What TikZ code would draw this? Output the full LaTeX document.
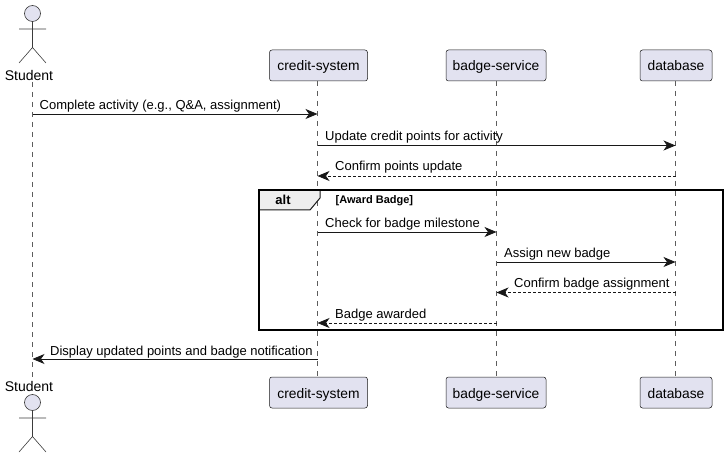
\documentclass[tikz,border=0pt]{standalone}
\usepackage{fontspec}
\setmainfont{Liberation Sans}
\usetikzlibrary{arrows.meta}
\definecolor{pfill}{HTML}{E2E2F0}
\definecolor{pline}{HTML}{181818}
\definecolor{tabfill}{HTML}{EEEEEE}
\tikzset{
  x=1bp,y=-1bp,
  partbox/.style={draw=pline,fill=pfill,rounded corners=2.5bp,line width=0.5bp,minimum height=31bp,inner sep=0pt,text height=11bp,text depth=0bp,font=\fontsize{13.8bp}{15bp}\selectfont,text=black},
  lifeline/.style={draw=pline!70!white,line width=0.5bp,dash pattern=on 5bp off 5bp},
  actorline/.style={draw=pline!85!white,line width=0.6bp},
  msg/.style={draw=pline,line width=0.8bp,-{Stealth[length=12bp,width=10bp,inset=3.5bp]}},
  ret/.style={msg,dash pattern=on 2.5bp off 2.5bp},
  msglabel/.style={anchor=base west,inner sep=0pt,font=\fontsize{13bp}{15bp}\selectfont,text=black},
  actorlabel/.style={anchor=base,inner sep=0pt,font=\fontsize{14bp}{15bp}\selectfont,text=black},
  frameline/.style={draw=black,line width=1.5bp},
}
\newcommand{\stickman}[2]{%
  \draw[actorline,fill=pfill] (#1,#2) circle[radius=8bp];
  \draw[actorline] (#1,#2+8) -- (#1,#2+34) (#1-13.5,#2+15.5) -- (#1+13.5,#2+15.5)
    (#1-13.5,#2+49.5) -- (#1,#2+34) -- (#1+13.5,#2+49.5);
}
\begin{document}
\begin{tikzpicture}
\useasboundingbox (0,0) rectangle (727,458);
% participants
\node[actorlabel] (st1) at (29,80.3) {Student};
\node[actorlabel] (st2) at (29,391.3) {Student};
\node[partbox,minimum width=98bp] (cs1) at (318.5,65.5) {credit-system};
\node[partbox,minimum width=98bp] (cs2) at (318.5,392.5) {credit-system};
\node[partbox,minimum width=100bp] (bs1) at (496,65.5) {badge-service};
\node[partbox,minimum width=100bp] (bs2) at (496,392.5) {badge-service};
\node[partbox,minimum width=72bp] (db1) at (676,65.5) {database};
\node[partbox,minimum width=72bp] (db2) at (676,392.5) {database};
% lifelines
\draw[lifeline] (32.5,82) -- (32.5,378);
\draw[lifeline] (317.5,81) -- (317.5,377);
\draw[lifeline] (496.5,81) -- (496.5,377);
\draw[lifeline] (675.5,81) -- (675.5,377);
% actors
\stickman{32.5}{13.5}
\stickman{32.5}{402.5}
% frame
\fill[tabfill] (259,190) -- (320,190) -- (320,198) -- (310,210) -- (259,210) -- cycle;
\draw[pline,line width=1bp] (320,190) -- (320,198) -- (310,210) -- (259,210);
\draw[frameline] (259,190) rectangle (723,330);
\node[anchor=base,inner sep=0pt,font=\bfseries\fontsize{13bp}{15bp}\selectfont] (alt) at (283,205) {alt};
\node[inner sep=0pt,anchor=base west,font=\bfseries\fontsize{11bp}{13bp}\selectfont] (guard) at (335.5,204) {[Award Badge]};
% message anchors
\coordinate (a1) at (32.5,114);   \coordinate (b1) at (317.5,114);
\coordinate (a2) at (317.5,145.5);\coordinate (b2) at (675.5,145.5);
\coordinate (a3) at (675.5,176);  \coordinate (b3) at (317.5,176);
\coordinate (a4) at (317.5,232);  \coordinate (b4) at (496.5,232);
\coordinate (a5) at (496.5,262);  \coordinate (b5) at (675.5,262);
\coordinate (a6) at (675.5,292.5);\coordinate (b6) at (496.5,292.5);
\coordinate (a7) at (496.5,323);  \coordinate (b7) at (317.5,323);
\coordinate (a8) at (317.5,359);  \coordinate (b8) at (32.5,359);
\draw[msg] (a1) -- (b1);
\draw[msg] (a2) -- (b2);
\draw[ret] (a3) -- (b3);
\draw[msg] (a4) -- (b4);
\draw[msg] (a5) -- (b5);
\draw[ret] (a6) -- (b6);
\draw[ret] (a7) -- (b7);
\draw[msg] (a8) -- (b8);
% labels
\node[msglabel] (m1) at (39.5,110) {Complete activity (e.g., Q\&A, assignment)};
\node[msglabel] (m2) at (325,140.5) {Update credit points for activity};
\node[msglabel] (m3) at (335,171) {Confirm points update};
\node[msglabel] (m4) at (325,227.5) {Check for badge milestone};
\node[msglabel] (m5) at (504,258) {Assign new badge};
\node[msglabel] (m6) at (514,288) {Confirm badge assignment};
\node[msglabel] (m7) at (335,318.5) {Badge awarded};
\node[msglabel] (m8) at (50,355.5) {Display updated points and badge notification};
\end{tikzpicture}
\end{document}
